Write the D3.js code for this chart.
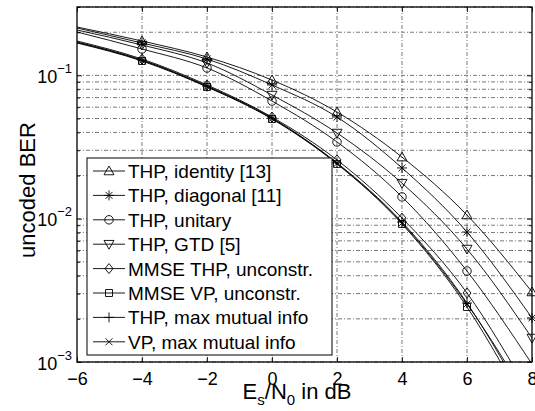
<!DOCTYPE html>
<html><head><meta charset="utf-8">
<script src="https://cdn.jsdelivr.net/npm/d3@7"></script>
<style>
body{margin:0;background:#fff}
text{font-family:"Liberation Sans",Arial,Helvetica,sans-serif;fill:#000}
</style>
</head><body>
<svg id="c" width="535" height="411"></svg>
<script>
// ---------- data ----------
const snrDb = [-6, -4, -2, 0, 2, 4, 6, 8];
const berThpIdentity = [0.2175, 0.1737, 0.1343, 0.0928, 0.0555, 0.0269, 0.0106, 0.00308];
const berThpDiagonal = [0.2141, 0.1682, 0.1300, 0.0857, 0.0512, 0.0226, 0.00807, 0.00203];
const berThpUnitary  = [0.2007, 0.1528, 0.1126, 0.0662, 0.0343, 0.0142, 0.00431, 0.000968];
const berThpGtd      = [0.2073, 0.1629, 0.1220, 0.0729, 0.0396, 0.0177, 0.00614, 0.00147];
const berMmseThp     = [0.1737, 0.1300, 0.0857, 0.0512, 0.0257, 0.0101, 0.00303, 0.000560];
const berMmseVp      = [0.1682, 0.1260, 0.0830, 0.0496, 0.0241, 0.00918, 0.00242, 0.000400];
const berThpMaxMi    = [0.1710, 0.1280, 0.0843, 0.0504, 0.0245, 0.00948, 0.00258, 0.000441];
const berVpMaxMi     = [0.1696, 0.1270, 0.0836, 0.0500, 0.0243, 0.00933, 0.00254, 0.000493];
const seriesNames = ["THP, identity [13]", "THP, diagonal [11]", "THP, unitary", "THP, GTD [5]",
  "MMSE THP, unconstr.", "MMSE VP, unconstr.", "THP, max mutual info", "VP, max mutual info"];
const seriesMarkers = ["^", "*", "o", "v", "d", "s", "+", "x"];
const seriesValues = [berThpIdentity, berThpDiagonal, berThpUnitary, berThpGtd,
  berMmseThp, berMmseVp, berThpMaxMi, berVpMaxMi];
const xTicks = [-6, -4, -2, 0, 2, 4, 6, 8];
const yMajorTicks = [1e-3, 1e-2, 1e-1];
const yExponents = ["\u22123", "\u22122", "\u22121"];
const xLabelParts = ["E", "s", "/N", "0", " in dB"];
const yLabel = "uncoded BER";

// ---------- layout ----------
const L = 77, R = 532, T = 7, B = 362;
const svg = d3.select("#c");
const x = d3.scaleLinear().domain([-6, 8]).range([L, R]);
const y = d3.scaleLog().domain([1e-3, 0.3]).range([B, T]);

const yMinor = [];
[1e-3, 1e-2, 1e-1].forEach(d => { for (let k = 2; k <= 9; k++) { const v = d * k; if (v <= 0.3001) yMinor.push(v); } });

svg.append("defs").append("clipPath").attr("id", "clip")
  .append("rect").attr("x", L).attr("y", T).attr("width", R - L).attr("height", B - T);

// grid
const grid = svg.append("g").attr("stroke", "#555").attr("stroke-width", 0.8)
  .attr("stroke-dasharray", "4,2,1,2").attr("fill", "none");
grid.selectAll("line.h").data(yMajorTicks.concat(yMinor)).join("line")
  .attr("x1", L).attr("x2", R).attr("y1", d => y(d)).attr("y2", d => y(d));
grid.selectAll("line.v").data(xTicks.filter(d => d > -6 && d < 8)).join("line").attr("class", "v")
  .attr("y1", T).attr("y2", B).attr("x1", d => x(d)).attr("x2", d => x(d));

// curves
const line = d3.line().x((d, i) => x(snrDb[i])).y(d => y(d)).curve(d3.curveMonotoneX);
const curves = svg.append("g").attr("clip-path", "url(#clip)");
seriesValues.forEach(vals => {
  curves.append("path").attr("d", line(vals)).attr("fill", "none")
    .attr("stroke", "#000").attr("stroke-width", 0.9);
});

// markers
function marker(g, type, s) {
  if (type === "o") {
    g.append("circle").attr("r", s * 0.85).attr("fill", "none").attr("stroke", "#000").attr("stroke-width", 0.9);
    return;
  }
  let d = "";
  switch (type) {
    case "^": d = `M0,${-s}L${s},${s*0.75}L${-s},${s*0.75}Z`; break;
    case "v": d = `M0,${s}L${s},${-s*0.75}L${-s},${-s*0.75}Z`; break;
    case "d": d = `M0,${-s}L${s*0.8},0L0,${s}L${-s*0.8},0Z`; break;
    case "s": d = `M${-s*0.7},${-s*0.7}H${s*0.7}V${s*0.7}H${-s*0.7}Z`; break;
    case "+": d = `M${-s},0H${s}M0,${-s}V${s}`; break;
    case "x": d = `M${-s*0.7},${-s*0.7}L${s*0.7},${s*0.7}M${-s*0.7},${s*0.7}L${s*0.7},${-s*0.7}`; break;
    case "*": d = `M${-s},0H${s}M0,${-s}V${s}M${-s*0.7},${-s*0.7}L${s*0.7},${s*0.7}M${-s*0.7},${s*0.7}L${s*0.7},${-s*0.7}`; break;
  }
  g.append("path").attr("d", d).attr("fill", "none").attr("stroke", "#000").attr("stroke-width", 0.9);
}
const mk = svg.append("g");
seriesValues.forEach((vals, si) => {
  vals.forEach((v, i) => {
    if (i === 0 || v < 1e-3) return;
    const g = mk.append("g").attr("transform", `translate(${x(snrDb[i])},${y(v)})`);
    marker(g, seriesMarkers[si], 5);
  });
});

// axes
const fmtX = d => (d < 0 ? "\u2212" + Math.abs(d) : String(d));
const axB = svg.append("g").attr("transform", `translate(0,${B})`)
  .call(d3.axisBottom(x).tickValues(xTicks).tickSize(-5).tickPadding(10).tickFormat(fmtX));
const axT = svg.append("g").attr("transform", `translate(0,${T})`)
  .call(d3.axisTop(x).tickValues(xTicks).tickSize(-5).tickFormat(""));
const axL = svg.append("g").attr("transform", `translate(${L},0)`)
  .call(d3.axisLeft(y).tickValues(yMajorTicks).tickSize(-5).tickPadding(5).tickFormat(""));
const axLm = svg.append("g").attr("transform", `translate(${L},0)`)
  .call(d3.axisLeft(y).tickValues(yMinor).tickSize(-3).tickFormat(""));
const axR = svg.append("g").attr("transform", `translate(${R},0)`)
  .call(d3.axisRight(y).tickValues(yMajorTicks).tickSize(-5).tickFormat(""));
const axRm = svg.append("g").attr("transform", `translate(${R},0)`)
  .call(d3.axisRight(y).tickValues(yMinor).tickSize(-3).tickFormat(""));
[axB, axT, axL, axLm, axR, axRm].forEach(a => {
  a.select(".domain").remove();
  a.selectAll(".tick line").attr("stroke", "#000").attr("stroke-width", 0.8);
});
axB.selectAll("text").attr("font-size", 18).attr("font-family", "Liberation Sans, Arial, sans-serif");

// y tick labels with superscripts
axL.selectAll(".tick").each(function(d, i) {
  const t = d3.select(this).select("text").text(null)
    .attr("font-size", 18).attr("font-family", "Liberation Sans, Arial, sans-serif")
    .attr("x", -5).attr("dy", null).attr("y", 7).attr("text-anchor", "end");
  t.append("tspan").text("10");
  t.append("tspan").attr("font-size", 13).attr("dy", -10).text(yExponents[i]);
});

// box
svg.append("rect").attr("x", L).attr("y", T).attr("width", R - L).attr("height", B - T)
  .attr("fill", "none").attr("stroke", "#000").attr("stroke-width", 1.3);

// axis labels
const xl = svg.append("text").attr("x", 297).attr("y", 399)
  .attr("text-anchor", "middle").attr("font-size", 22);
xl.append("tspan").text(xLabelParts[0]);
xl.append("tspan").attr("font-size", 15).attr("dy", 6).text(xLabelParts[1]);
xl.append("tspan").attr("dy", -6).text(xLabelParts[2]);
xl.append("tspan").attr("font-size", 15).attr("dy", 6).text(xLabelParts[3]);
xl.append("tspan").attr("dy", -6).text(xLabelParts[4]);

svg.append("text").attr("transform", `translate(35,190) rotate(-90)`)
  .attr("text-anchor", "middle").attr("font-size", 22).text(yLabel);

// legend
const lg = svg.append("g");
const lgX = 87, lgY = 158, lgW = 245, lgH = 197, rowH = 24.4;
lg.append("rect").attr("x", lgX).attr("y", lgY).attr("width", lgW).attr("height", lgH)
  .attr("fill", "#fff").attr("stroke", "#000").attr("stroke-width", 1);
seriesNames.forEach((name, i) => {
  const cy = lgY + 13 + i * rowH;
  lg.append("line").attr("x1", lgX + 6).attr("x2", lgX + 38).attr("y1", cy).attr("y2", cy)
    .attr("stroke", "#000").attr("stroke-width", 0.9);
  const g = lg.append("g").attr("transform", `translate(${lgX + 22},${cy})`);
  marker(g, seriesMarkers[i], 5);
  lg.append("text").attr("x", lgX + 41).attr("y", cy + 7).attr("font-size", 19).text(name);
});
</script>
</body></html>
